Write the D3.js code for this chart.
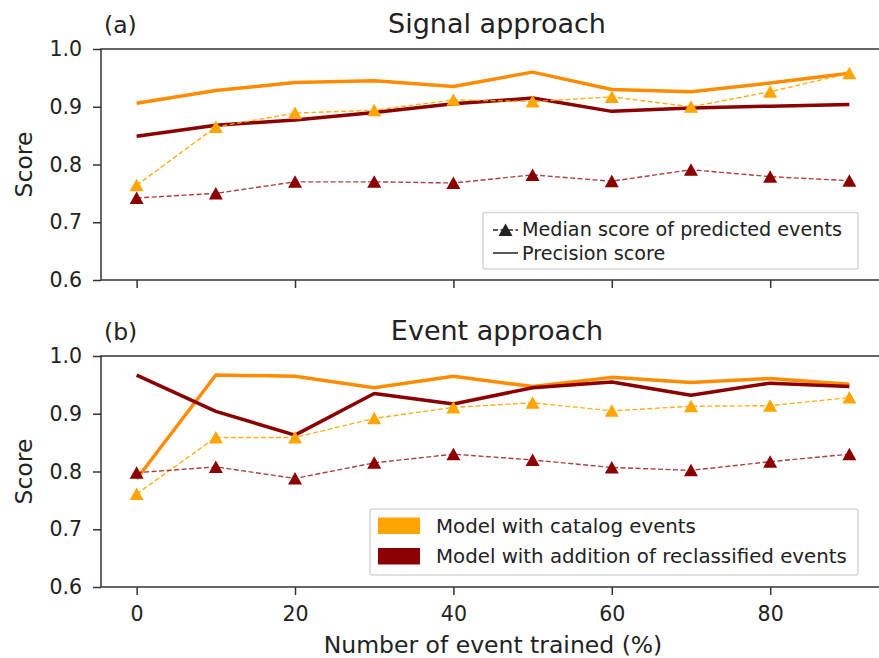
<!DOCTYPE html>
<html lang="en">
  <head>
    <meta charset="UTF-8" />
    <title>Score vs trained events</title>
    <style>
      body { margin: 0; background: #fff; }
      svg text { font-family: "DejaVu Sans", sans-serif; fill: #222; }
    </style>
  </head>
  <body>
    <svg id="chart" width="879" height="658"></svg>

    <script src="https://d3js.org/d3.v7.min.js"></script>
    <script>
      // data
      const trained = [0, 10, 20, 30, 40, 50, 60, 70, 80, 90];
      const xTicks = [0, 20, 40, 60, 80];
      const yTicks = [0.6, 0.7, 0.8, 0.9, 1.0];

      // (a) signal approach
      const sigPrecCatalog = [0.906, 0.928, 0.942, 0.945, 0.935, 0.960, 0.930, 0.926, 0.941, 0.958];
      const sigPrecReclass = [0.849, 0.868, 0.877, 0.890, 0.905, 0.915, 0.892, 0.898, 0.901, 0.904];
      const sigMedCatalog = [0.764, 0.865, 0.889, 0.894, 0.912, 0.909, 0.917, 0.900, 0.926, 0.958];
      const sigMedReclass = [0.742, 0.750, 0.770, 0.770, 0.768, 0.782, 0.771, 0.791, 0.779, 0.772];

      // (b) event approach
      const evPrecCatalog = [0.787, 0.967, 0.965, 0.945, 0.965, 0.947, 0.963, 0.954, 0.961, 0.951];
      const evPrecReclass = [0.967, 0.904, 0.863, 0.935, 0.917, 0.945, 0.955, 0.932, 0.953, 0.947];
      const evMedCatalog = [0.761, 0.859, 0.859, 0.892, 0.911, 0.919, 0.905, 0.913, 0.914, 0.928];
      const evMedReclass = [0.798, 0.808, 0.788, 0.815, 0.830, 0.820, 0.807, 0.802, 0.817, 0.830];

      const ORANGE = "#ff8c00";
      const ORANGE_LIGHT = "#ffa500";
      const DARKRED = "#8b0000";

      const svg = d3.select("#chart");

      const x = d3.scaleLinear().domain([-4.5, 94.5]).range([101, 885]);

      const panels = [
        {
          top: 49, bottom: 280, tag: "(a)", title: "Signal approach",
          prec: [sigPrecCatalog, sigPrecReclass],
          med: [sigMedCatalog, sigMedReclass],
          showXLabels: false
        },
        {
          top: 356, bottom: 587, tag: "(b)", title: "Event approach",
          prec: [evPrecCatalog, evPrecReclass],
          med: [evMedCatalog, evMedReclass],
          showXLabels: true
        }
      ];

      // matplotlib-style "^" marker, centred on its bbox
      const tri = "M0,-6.5L7,6L-7,6Z";

      panels.forEach((p) => {
        const y = d3.scaleLinear().domain([0.6, 1.0]).range([p.bottom, p.top]);
        const g = svg.append("g");

        const line = d3.line()
          .x((d, i) => x(trained[i]))
          .y((d) => y(d));

        // precision (solid)
        p.prec.forEach((vals, k) => {
          g.append("path")
            .datum(vals)
            .attr("d", line)
            .attr("fill", "none")
            .attr("stroke", k === 0 ? ORANGE : DARKRED)
            .attr("stroke-width", 3.5)
            .attr("stroke-linejoin", "round");
        });

        // median score (dashed + triangles)
        p.med.forEach((vals, k) => {
          const col = k === 0 ? ORANGE_LIGHT : DARKRED;
          g.append("path")
            .datum(vals)
            .attr("d", line)
            .attr("fill", "none")
            .attr("stroke", col)
            .attr("stroke-opacity", k === 0 ? 0.9 : 0.75)
            .attr("stroke-width", 1.4)
            .attr("stroke-dasharray", "5,2.5");
          g.selectAll(null)
            .data(vals)
            .enter()
            .append("path")
            .attr("d", tri)
            .attr("transform", (d, i) => `translate(${x(trained[i])},${y(d)})`)
            .attr("fill", col);
        });

        // axes
        const yAxis = d3.axisLeft(y).tickValues(yTicks).tickFormat(d3.format(".1f")).tickSize(8).tickPadding(11);
        const gy = svg.append("g").attr("transform", `translate(${x.range()[0]},0)`).call(yAxis);
        const xAxis = d3.axisBottom(x).tickValues(xTicks).tickSize(8).tickPadding(11);
        if (!p.showXLabels) xAxis.tickFormat("");
        const gx = svg.append("g").attr("transform", `translate(0,${p.bottom})`).call(xAxis);

        [gx, gy].forEach((ax) => {
          ax.select(".domain").remove();
          ax.selectAll("line").attr("stroke", "#333").attr("stroke-width", 1.5);
          ax.selectAll("text").style("font-size", "20.5px").attr("fill", "#222");
        });

        // spines
        svg.append("rect")
          .attr("x", x.range()[0])
          .attr("y", p.top)
          .attr("width", x.range()[1] - x.range()[0])
          .attr("height", p.bottom - p.top)
          .attr("fill", "none")
          .attr("stroke", "#333")
          .attr("stroke-width", 1.5);

        svg.append("text")
          .attr("x", 104)
          .attr("y", p.top - 16)
          .style("font-size", "23.5px")
          .text(p.tag);

        svg.append("text")
          .attr("x", 497)
          .attr("y", p.top - 16)
          .attr("text-anchor", "middle")
          .style("font-size", "27px")
          .text(p.title);

        svg.append("text")
          .attr("transform", `translate(32,${(p.top + p.bottom) / 2}) rotate(-90)`)
          .attr("text-anchor", "middle")
          .style("font-size", "23.5px")
          .text("Score");
      });

      svg.append("text")
        .attr("x", 493)
        .attr("y", 653)
        .attr("text-anchor", "middle")
        .style("font-size", "23.5px")
        .text("Number of event trained (%)");

      // legend (a): line styles
      const la = svg.append("g");
      la.append("rect")
        .attr("x", 483).attr("y", 212.5).attr("width", 375).attr("height", 56.5)
        .attr("rx", 2).attr("fill", "#fff").attr("fill-opacity", 0.8)
        .attr("stroke", "#d6d6d6").attr("stroke-width", 1.5);
      la.append("line")
        .attr("x1", 493).attr("x2", 518).attr("y1", 230).attr("y2", 230)
        .attr("stroke", "#222").attr("stroke-width", 1.4).attr("stroke-dasharray", "5,2.5");
      la.append("path").attr("d", tri).attr("transform", "translate(505.5,230)").attr("fill", "#222");
      la.append("line")
        .attr("x1", 493).attr("x2", 518).attr("y1", 253).attr("y2", 253)
        .attr("stroke", "#222").attr("stroke-width", 1.5);
      la.append("text").attr("x", 522).attr("y", 236).style("font-size", "19.2px").text("Median score of predicted events");
      la.append("text").attr("x", 522).attr("y", 260).style("font-size", "19.2px").text("Precision score");

      // legend (b): model colours
      const models = ["Model with catalog events", "Model with addition of reclassified events"];
      const modelColors = [ORANGE_LIGHT, DARKRED];
      const lb = svg.append("g");
      lb.append("rect")
        .attr("x", 370).attr("y", 509).attr("width", 488).attr("height", 66)
        .attr("rx", 2).attr("fill", "#fff").attr("fill-opacity", 0.8)
        .attr("stroke", "#d6d6d6").attr("stroke-width", 1.5);
      models.forEach((m, i) => {
        lb.append("rect")
          .attr("x", 378).attr("y", 517.5 + i * 30.5).attr("width", 42).attr("height", 16.5)
          .attr("fill", modelColors[i]);
        lb.append("text")
          .attr("x", 436).attr("y", 533 + i * 30)
          .style("font-size", "19.8px")
          .text(m);
      });
    </script>
  </body>
</html>
